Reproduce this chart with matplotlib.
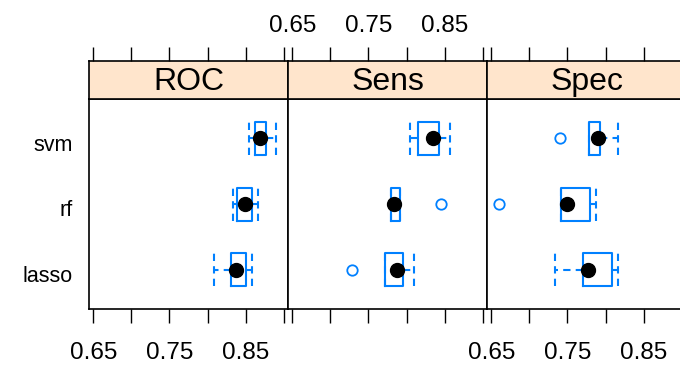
import matplotlib
matplotlib.use("Agg")
import matplotlib.pyplot as plt
from matplotlib import font_manager
from matplotlib.transforms import ScaledTranslation

plt.rcParams['font.family'] = ['Liberation Sans', 'DejaVu Sans']
_names = {f.name for f in font_manager.fontManager.ttflist}
if 'Liberation Sans Narrow' in _names:
    ylab_font = dict(family=['Liberation Sans Narrow', 'DejaVu Sans'], size=18)
else:
    ylab_font = dict(family=['Liberation Sans', 'DejaVu Sans'], size=15.5)

models = ["lasso", "rf", "svm"]
metrics = ["ROC", "Sens", "Spec"]

# per metric, values for lasso, rf, svm
roc_whislo = [0.808, 0.834, 0.855]
roc_q1     = [0.831, 0.839, 0.863]
roc_med    = [0.838, 0.849, 0.869]
roc_q3     = [0.851, 0.859, 0.877]
roc_whishi = [0.858, 0.866, 0.890]
roc_out    = [[], [], []]

sens_whislo = [0.772, 0.780, 0.805]
sens_q1     = [0.772, 0.780, 0.815]
sens_med    = [0.787, 0.784, 0.835]
sens_q3     = [0.795, 0.791, 0.842]
sens_whishi = [0.810, 0.791, 0.857]
sens_out    = [[0.7285], [0.8455], []]

spec_whislo = [0.734, 0.741, 0.778]
spec_q1     = [0.771, 0.741, 0.778]
spec_med    = [0.777, 0.749, 0.790]
spec_q3     = [0.809, 0.779, 0.793]
spec_whishi = [0.817, 0.787, 0.817]
spec_out    = [[], [0.6596], [0.7403]]

all_stats = {
    "ROC": (roc_whislo, roc_q1, roc_med, roc_q3, roc_whishi, roc_out),
    "Sens": (sens_whislo, sens_q1, sens_med, sens_q3, sens_whishi, sens_out),
    "Spec": (spec_whislo, spec_q1, spec_med, spec_q3, spec_whishi, spec_out),
}

tick_vals = [0.65, 0.70, 0.75, 0.80, 0.85, 0.90]
tick_labels = ["0.65", "", "0.75", "", "0.85", ""]

W, H = 680, 367
fig = plt.figure(figsize=(W / 100, H / 100), dpi=100)

blue = "#0080ff"
panel_w = 199
lefts = [89, 288, 487]
p_top, p_bot = 99, 309.3
s_top = 61

xlim = (0.6443, 0.9057)

for i, m in enumerate(metrics):
    x0 = lefts[i]
    ax = fig.add_axes([x0 / W, (H - p_bot) / H, panel_w / W, (p_bot - p_top) / H])
    sax = fig.add_axes([x0 / W, (H - p_top) / H, panel_w / W, (p_top - s_top) / H])

    wl, q1, md, q3, wh, outs = all_stats[m]
    stats = []
    for k in range(len(models)):
        stats.append(dict(whislo=wl[k], q1=q1[k], med=md[k], q3=q3[k],
                          whishi=wh[k], fliers=outs[k]))
    ax.bxp(stats, positions=[1, 2, 3], widths=0.5, capwidths=0.5,
           orientation="horizontal", patch_artist=False,
           boxprops=dict(color=blue, linewidth=1.5),
           whiskerprops=dict(color=blue, linewidth=1.5, linestyle=(0, (3.5, 2.5))),
           capprops=dict(color=blue, linewidth=1.5, linestyle=(0, (3.5, 2.5))),
           medianprops=dict(linestyle="none"),
           flierprops=dict(marker="o", markerfacecolor="none",
                           markeredgecolor=blue, markersize=7.5, markeredgewidth=1.3))
    ax.plot(md, [1, 2, 3], linestyle="none", marker="o", color="black",
            markersize=10, zorder=5)

    ax.set_xlim(*xlim)
    ax.set_ylim(0.4, 3.6)
    ax.set_xticks(tick_vals)
    ax.set_xticklabels(tick_labels)
    ax.tick_params(axis="x", direction="out", length=10, width=1, color="black",
                   labelsize=17.5, pad=13.5, labelbottom=(i != 1), bottom=True)
    if i == 0:
        ax.set_yticks([1, 2, 3])
        ax.set_yticklabels(models, **ylab_font)
        ax.tick_params(axis="y", length=0, pad=12)
        for lab in ax.get_yticklabels():
            lab.set_transform(lab.get_transform() +
                              ScaledTranslation(0, -3 / 72, fig.dpi_scale_trans))
    else:
        ax.set_yticks([])
    for sp in ax.spines.values():
        sp.set_color("black")
        sp.set_linewidth(1.2)

    sax.set_facecolor("#ffe5cc")
    sax.set_xlim(*xlim)
    sax.set_ylim(0, 1)
    sax.set_yticks([])
    sax.xaxis.tick_top()
    sax.set_xticks(tick_vals)
    sax.set_xticklabels(tick_labels)
    sax.tick_params(axis="x", direction="out", length=10, width=1, color="black",
                    labelsize=17.5, pad=7.5, labeltop=(i == 1), top=True,
                    bottom=False, labelbottom=False)
    sax.text(0.5, 0.45, m, transform=sax.transAxes, ha="center", va="center",
             fontsize=23)
    for sp in sax.spines.values():
        sp.set_color("black")
        sp.set_linewidth(1.2)

fig.savefig("out.png", dpi=100)
